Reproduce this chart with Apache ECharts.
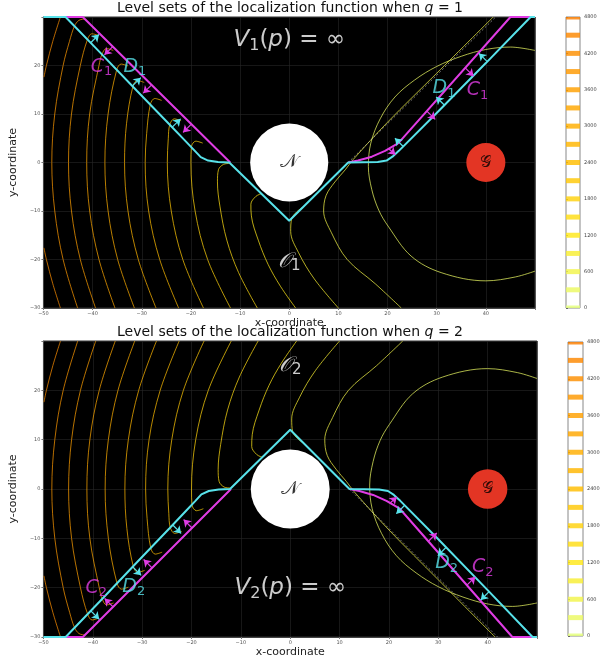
<!DOCTYPE html>
<html><head><meta charset="utf-8">
<script src="https://cdn.jsdelivr.net/npm/echarts/dist/echarts.min.js"></script>
<style>html,body{margin:0;padding:0;background:#fff}#c{width:610px;height:663px}</style>
</head><body><div id="c"></div>
<script>
// ---------- ticks ----------
const xTicks = [-50,-40,-30,-20,-10,0,10,20,30,40];
const yTicks = [-30,-20,-10,0,10,20];
const cbTicks = [0,600,1200,1800,2400,3000,3600,4200,4800];
const levels = [0,300,600,900,1200,1500,1800,2100,2400,2700,3000,3300,3600,3900,4200,4500,4800];
const levelColors = ['#e4ff7a','#ebf962','#f2f44a','#f8ee32','#ffe81a','#ffdd14','#ffd20d','#ffc806','#ffbd00','#ffb600','#ffae00','#ffa700','#ffa000','#fe9800','#fd8f00','#fd8700','#fc7f00'];

// ---------- top panel (q = 1) ----------
const top_c4200a = [[-49.9,-17.6],[-49.4,-20],[-48.1,-25],[-46.55,-30]];
const top_c4200b = [[-49.9,17.6],[-49.4,20],[-48.1,25],[-46.55,30]];
const top_c3900 = [[-43.05,-30],[-46.0,-20],[-47.7,-10],[-48.3,0],[-47.7,10],[-46.0,20],[-44.7,25],[-43.7,28.1],[-42.8,29.3],[-41.6,29.6]];
const top_c3600 = [[-39.4,-30],[-42.5,-20],[-44.3,-10],[-44.9,0],[-44.3,10],[-42.5,20],[-41.05,25.35],[-40.15,26.55],[-38.75,26.15]];
const top_c3300 = [[-35.45,-30],[-38.7,-20],[-40.6,-10],[-41.2,0],[-40.6,10],[-38.7,20],[-38.1,22.3],[-37.2,23.5],[-35.8,23.1]];
const top_c3000 = [[-31.5,-30],[-34.9,-20],[-36.85,-10],[-37.5,0],[-36.85,10],[-35.1,19.1],[-34.2,20.3],[-32.8,19.9]];
const top_c2700 = [[-27.1,-30],[-30.7,-20],[-32.8,-10],[-33.5,0],[-33.1,8],[-31.8,15.7],[-30.9,16.9],[-29.5,16.5]];
const top_c2400 = [[-22.5,-30],[-26.35,-20],[-28.6,-10],[-29.3,0],[-29.0,6],[-28.25,12],[-27.35,13.2],[-25.95,12.8]];
const top_c2100 = [[-17.45,-30],[-21.65,-20],[-24.0,-10],[-24.8,0],[-24.6,5],[-24.3,7.8],[-23.4,9.0],[-22.0,8.6]];
const top_c1800 = [[-11.95,-30],[-16.6,-20],[-19.15,-10],[-20.0,0],[-19.9,3.25],[-19.0,4.4],[-17.6,4.0]];
const top_c1500 = [[-6.5,-30],[-10.3,-22.7],[-12.7,-16],[-14.1,-9],[-14.6,-4],[-14.4,-1.5],[-13.4,-0.4],[-12.2,-0.2]];
const top_c1200 = [[1.3,-30],[-1.8,-25.5],[-4.3,-21],[-6.3,-16],[-7.7,-11],[-7.8,-8.6],[-6.8,-7],[-5.6,-6.4]];
const top_c900 = [[10,-30],[5.1,-24],[1.9,-18.6],[0.3,-14.2],[0.5,-11.6],[1.5,-10.2],[2.8,-9.2]];
const top_c600 = [[22.8,-30],[17.5,-25],[11.8,-20],[8.6,-14.5],[7,-10],[7.5,-6.8],[9.3,-4],[11.4,-1.5],[13,0.6],[20,8.3],[30,18.4],[41.5,30]];
const top_c300 = [[50,23.1],[45,23.8],[40,23.3],[35,21.9],[30,19.8],[25.5,17],[21.5,13.5],[18.5,9],[16.6,4],[16.1,-0.8],[16.8,-5.6],[18.2,-9.8],[20.1,-13.1],[24.8,-19.3],[30.9,-22.7],[40,-24.4],[46,-23.6],[50,-22.4]];
const top_cyan = [[-50,30],[-45.5,30],[-38.5,22.7],[-31,14.8],[-24.5,8.0],[-21,4.3],[-19.3,2.5],[-18,1.1],[-16.5,0.4],[-14.5,0.1],[-12.2,0],[0,-12],[12,0],[18,0.1],[19.8,0.4],[21,1.2],[22.3,2.4],[30,10.2],[40,20.5],[49.1,30],[50,30]];
const top_magentaL = [[-45.5,30],[-42,30],[-12,0]];
const top_magentaR = [[12,0],[14,0.4],[16.8,1.2],[19.5,2.4],[22.2,4],[45,30],[50,30]];
const top_dottedL = [[-12,0],[-42,30]];
const top_dottedR = [[12,0],[42,30]];
const top_arrowsCyan = [[-40.4,24.7,-38.7,26.4],[-31.9,15.8,-30.2,17.5],[-23.8,7.3,-22.1,9.0],[40.3,20.8,38.6,22.5],[31.6,11.8,29.9,13.5],[23.2,3.3,21.5,5.0]];
const top_arrowsMagenta = [[-35.9,23.9,-37.6,22.2],[-28.0,16.0,-29.7,14.3],[-19.9,7.9,-21.6,6.2],[35.8,19.5,37.5,17.8],[28.0,10.6,29.7,8.9],[20.2,2.9,21.6,1.6]];

// ---------- bottom panel (q = 2) ----------
const bot_c4200a = [[-49.9,17.6],[-49.4,20],[-48.1,25],[-46.55,30]];
const bot_c4200b = [[-49.9,-17.6],[-49.4,-20],[-48.1,-25],[-46.55,-30]];
const bot_c3900 = [[-43.05,30],[-46.0,20],[-47.7,10],[-48.3,0],[-47.7,-10],[-46.0,-20],[-44.7,-25],[-43.7,-28.1],[-42.8,-29.3],[-41.6,-29.6]];
const bot_c3600 = [[-39.4,30],[-42.5,20],[-44.3,10],[-44.9,0],[-44.3,-10],[-42.5,-20],[-41.05,-25.35],[-40.15,-26.55],[-38.75,-26.15]];
const bot_c3300 = [[-35.45,30],[-38.7,20],[-40.6,10],[-41.2,0],[-40.6,-10],[-38.7,-20],[-38.1,-22.3],[-37.2,-23.5],[-35.8,-23.1]];
const bot_c3000 = [[-31.5,30],[-34.9,20],[-36.85,10],[-37.5,0],[-36.85,-10],[-35.1,-19.1],[-34.2,-20.3],[-32.8,-19.9]];
const bot_c2700 = [[-27.1,30],[-30.7,20],[-32.8,10],[-33.5,0],[-33.1,-8],[-31.8,-15.7],[-30.9,-16.9],[-29.5,-16.5]];
const bot_c2400 = [[-22.5,30],[-26.35,20],[-28.6,10],[-29.3,0],[-29.0,-6],[-28.25,-12],[-27.35,-13.2],[-25.95,-12.8]];
const bot_c2100 = [[-17.45,30],[-21.65,20],[-24.0,10],[-24.8,0],[-24.6,-5],[-24.3,-7.8],[-23.4,-9.0],[-22.0,-8.6]];
const bot_c1800 = [[-11.95,30],[-16.6,20],[-19.15,10],[-20.0,0],[-19.9,-3.25],[-19.0,-4.4],[-17.6,-4.0]];
const bot_c1500 = [[-6.5,30],[-10.3,22.7],[-12.7,16],[-14.1,9],[-14.6,4],[-14.4,1.5],[-13.4,0.4],[-12.2,0.2]];
const bot_c1200 = [[1.3,30],[-1.8,25.5],[-4.3,21],[-6.3,16],[-7.7,11],[-7.8,8.6],[-6.8,7],[-5.6,6.4]];
const bot_c900 = [[10,30],[5.1,24],[1.9,18.6],[0.3,14.2],[0.5,11.6],[1.5,10.2],[2.8,9.2]];
const bot_c600 = [[22.8,30],[17.5,25],[11.8,20],[8.6,14.5],[7,10],[7.5,6.8],[9.3,4],[11.4,1.5],[13,-0.6],[20,-8.3],[30,-18.4],[41.5,-30]];
const bot_c300 = [[50,-23.1],[45,-23.8],[40,-23.3],[35,-21.9],[30,-19.8],[25.5,-17],[21.5,-13.5],[18.5,-9],[16.6,-4],[16.1,0.8],[16.8,5.6],[18.2,9.8],[20.1,13.1],[24.8,19.3],[30.9,22.7],[40,24.4],[46,23.6],[50,22.4]];
const bot_cyan = [[-50,-30],[-45.5,-30],[-38.5,-22.7],[-31,-14.8],[-24.5,-8.0],[-21,-4.3],[-19.3,-2.5],[-18,-1.1],[-16.5,-0.4],[-14.5,-0.1],[-12.2,0],[0,12],[12,0],[18,-0.1],[19.8,-0.4],[21,-1.2],[22.3,-2.4],[30,-10.2],[40,-20.5],[49.1,-30],[50,-30]];
const bot_magentaL = [[-45.5,-30],[-42,-30],[-12,0]];
const bot_magentaR = [[12,0],[14,-0.4],[16.8,-1.2],[19.5,-2.4],[22.2,-4],[45,-30],[50,-30]];
const bot_dottedL = [[-12,0],[-42,-30]];
const bot_dottedR = [[12,0],[42,-30]];
const bot_arrowsCyan = [[-40.4,-24.7,-38.7,-26.4],[-31.9,-15.8,-30.2,-17.5],[-23.8,-7.3,-22.1,-9.0],[40.3,-20.8,38.6,-22.5],[31.6,-11.8,29.9,-13.5],[23.2,-3.3,21.5,-5.0]];
const bot_arrowsMagenta = [[-35.9,-23.9,-37.6,-22.2],[-28.0,-16.0,-29.7,-14.3],[-19.9,-7.9,-21.6,-6.2],[35.8,-19.5,37.5,-17.8],[28.0,-10.6,29.7,-8.9],[20.2,-2.9,21.6,-1.6]];

// obstacle N and goal G: [x, y, radius]
const nCircle = [0,0,8];
const gCircle = [40,0,4];

const CYAN = '#58e2ea', MAG = '#e03ce4';

const topContours = [[4200,top_c4200a],[4200,top_c4200b],[3900,top_c3900],[3600,top_c3600],[3300,top_c3300],[3000,top_c3000],[2700,top_c2700],[2400,top_c2400],[2100,top_c2100],[1800,top_c1800],[1500,top_c1500],[1200,top_c1200],[900,top_c900],[600,top_c600],[300,top_c300]];
const botContours = [[4200,bot_c4200a],[4200,bot_c4200b],[3900,bot_c3900],[3600,bot_c3600],[3300,bot_c3300],[3000,bot_c3000],[2700,bot_c2700],[2400,bot_c2400],[2100,bot_c2100],[1800,bot_c1800],[1500,bot_c1500],[1200,bot_c1200],[900,bot_c900],[600,bot_c600],[300,bot_c300]];

const topAnn = [
  {t:'{v|V}{s|1}{n|(}{v|p}{n|) = ∞}', x:0, y:25.2, color:'#ffffff', size:23},
  {t:'{v|C}{s|1}', x:-38.2, y:19.7, color:MAG, size:19},
  {t:'{v|D}{s|1}', x:-31.4, y:19.7, color:CYAN, size:19},
  {t:'{v|D}{s|1}', x:31.5, y:15.3, color:CYAN, size:19},
  {t:'{v|C}{s|1}', x:38.3, y:14.9, color:MAG, size:19},
  {t:'{v|𝒪}{s|1}', x:0, y:-20.4, color:'#ffffff', size:21},
  {t:'{n|𝒩}', x:0, y:0, color:'#000000', size:19},
  {t:'{n|𝒢}', x:40, y:0, color:'#000000', size:16}
];
const botAnn = [
  {t:'{v|V}{s|2}{n|(}{v|p}{n|) = ∞}', x:0, y:-20, color:'#ffffff', size:23},
  {t:'{v|C}{s|2}', x:-39.3, y:-20, color:MAG, size:19},
  {t:'{v|D}{s|2}', x:-31.7, y:-19.8, color:CYAN, size:19},
  {t:'{v|D}{s|2}', x:31.7, y:-15.1, color:CYAN, size:19},
  {t:'{v|C}{s|2}', x:39.0, y:-15.9, color:MAG, size:19},
  {t:'{v|𝒪}{s|2}', x:0, y:25.1, color:'#ffffff', size:21},
  {t:'{n|𝒩}', x:0, y:0, color:'#000000', size:19},
  {t:'{n|𝒢}', x:40, y:0, color:'#000000', size:16}
];

function levelColor(l){ return levelColors[levels.indexOf(l)]; }
function fmt(v){ return v < 0 ? '\u2212' + Math.abs(v) : String(v); }
function mkRich(color, size){
  return {
    v:{fontFamily:'DejaVu Sans', fontStyle:'italic', fontSize:size, color:color, lineHeight:Math.round(size*1.2)},
    n:{fontFamily:'DejaVu Sans', fontSize:size, color:color, lineHeight:Math.round(size*1.2)},
    s:{fontFamily:'DejaVu Sans', fontSize:Math.round(size*0.7), color:color, verticalAlign:'bottom', lineHeight:Math.round(size*0.7)}
  };
}

function panelSeries(g, contours, cyan, magL, magR, dotL, dotR, arrC, arrM, anns){
  const s = [];
  contours.forEach(([lv, pts]) => s.push({type:'line', xAxisIndex:g, yAxisIndex:g, data:pts, symbol:'none', smooth:0.35,
     lineStyle:{color:levelColor(lv), width:1, opacity:0.72}, silent:true, z:2, animation:false}));
  [dotL, dotR].forEach(d => s.push({type:'line', xAxisIndex:g, yAxisIndex:g, data:d, symbol:'none',
     lineStyle:{color:'#bbbbbb', width:0.8, type:[2,2], opacity:0.8}, silent:true, z:3, animation:false}));
  [magL, magR].forEach(d => s.push({type:'line', xAxisIndex:g, yAxisIndex:g, data:d, symbol:'none',
     lineStyle:{color:MAG, width:2}, silent:true, z:4, animation:false}));
  s.push({type:'line', xAxisIndex:g, yAxisIndex:g, data:cyan, symbol:'none',
     lineStyle:{color:CYAN, width:2}, silent:true, z:5, animation:false});
  s.push({type:'custom', xAxisIndex:g, yAxisIndex:g, data:[nCircle, gCircle], z:8, silent:true, animation:false,
     renderItem:(p, api) => {
       const c = api.coord([api.value(0), api.value(1)]);
       const sz = api.size([api.value(2), api.value(2)]);
       return {type:'circle', shape:{cx:c[0], cy:c[1], r:(sz[0]+sz[1])/2}, style:{fill: p.dataIndex === 0 ? '#ffffff' : '#e33524'}};
     }});
  [[arrC, CYAN],[arrM, MAG]].forEach(([arr, col]) => s.push({type:'lines', coordinateSystem:'cartesian2d', xAxisIndex:g, yAxisIndex:g,
     data: arr.map(a => ({coords:[[a[0],a[1]],[a[2],a[3]]]})), symbol:['none','arrow'], symbolSize:7,
     lineStyle:{color:col, width:1.2, opacity:1}, silent:true, z:9, animation:false}));
  anns.forEach(a => s.push({type:'scatter', xAxisIndex:g, yAxisIndex:g, data:[[a.x, a.y]], symbolSize:0, z:20, silent:true, animation:false,
     label:{show:true, position:'inside', formatter:a.t, rich:mkRich(a.color, a.size)}}));
  return s;
}

function cbSeries(g){
  return {type:'custom', xAxisIndex:g, yAxisIndex:g, data: levels.map((l,i) => [0.5, l, i]), encode:{x:0, y:1}, clip:true, silent:true, animation:false,
    renderItem:(p, api) => {
      const lv = api.value(1), i = api.value(2);
      const a = api.coord([0, lv]), b = api.coord([1, lv]);
      return {type:'rect', shape:{x:a[0], y:a[1]-2.5, width:b[0]-a[0], height:5}, style:{fill:levelColors[i], opacity:0.82}};
    }};
}

function mainX(g){
  return {gridIndex:g, type:'value', min:-50, max:50, interval:10, name:'x-coordinate', nameLocation:'middle', nameGap:10,
    nameTextStyle:{fontSize:11, color:'#222', fontFamily:'DejaVu Sans'},
    axisLine:{show:true, onZero:false, lineStyle:{color:'#444'}}, axisTick:{show:true, length:2, lineStyle:{color:'#777'}},
    axisLabel:{fontSize:5, color:'#555', margin:3, fontFamily:'DejaVu Sans', formatter:v => xTicks.includes(v) ? fmt(v) : ''},
    splitLine:{show:true, lineStyle:{color:'#262626', width:0.6}}};
}
function mainY(g){
  return {gridIndex:g, type:'value', min:-30, max:30, interval:10, name:'y-coordinate', nameLocation:'middle', nameGap:2, nameRotate:90,
    nameTextStyle:{fontSize:11, color:'#222', fontFamily:'DejaVu Sans'},
    axisLine:{show:true, onZero:false, lineStyle:{color:'#444'}}, axisTick:{show:true, length:2, lineStyle:{color:'#777'}},
    axisLabel:{fontSize:5, color:'#555', margin:3, fontFamily:'DejaVu Sans', formatter:v => yTicks.includes(v) ? fmt(v) : ''},
    splitLine:{show:true, lineStyle:{color:'#262626', width:0.6}}};
}
function cbX(g){ return {gridIndex:g, type:'value', min:0, max:1, show:false}; }
function cbY(g){
  return {gridIndex:g, type:'value', min:0, max:4800, interval:600, position:'right',
    axisLine:{show:false}, axisTick:{show:true, length:2, lineStyle:{color:'#666'}},
    axisLabel:{fontSize:5, color:'#444', margin:4, fontFamily:'DejaVu Sans', formatter:v => cbTicks.includes(v) ? String(v) : ''},
    splitLine:{show:false}};
}

const titleRich = {a:{fontSize:14, fontFamily:'DejaVu Sans', fill:'#111', color:'#111'}, i:{fontSize:14, fontFamily:'DejaVu Sans', fontStyle:'italic', fill:'#111', color:'#111'}};

const option = {
  animation:false,
  backgroundColor:'#ffffff',
  grid:[
    {left:40, top:17, width:495, height:291, show:true, backgroundColor:'#000', borderColor:'#333', borderWidth:1},
    {left:36, top:341, width:501, height:296, show:true, backgroundColor:'#000', borderColor:'#333', borderWidth:1},
    {left:566, top:17, width:14, height:291, show:true, backgroundColor:'#fff', borderColor:'#888', borderWidth:1},
    {left:568, top:342, width:15, height:294, show:true, backgroundColor:'#fff', borderColor:'#888', borderWidth:1}
  ],
  xAxis:[mainX(0), mainX(1), cbX(2), cbX(3)],
  yAxis:[mainY(0), mainY(1), cbY(2), cbY(3)],
  graphic:[
    {type:'text', x:290, y:8, style:{text:'{a|Level sets of the localization function when }{i|q}{a| = 1}', rich:titleRich, align:'center', verticalAlign:'middle'}},
    {type:'text', x:290, y:332, style:{text:'{a|Level sets of the localization function when }{i|q}{a| = 2}', rich:titleRich, align:'center', verticalAlign:'middle'}}
  ],
  series:[].concat(
    panelSeries(0, topContours, top_cyan, top_magentaL, top_magentaR, top_dottedL, top_dottedR, top_arrowsCyan, top_arrowsMagenta, topAnn),
    panelSeries(1, botContours, bot_cyan, bot_magentaL, bot_magentaR, bot_dottedL, bot_dottedR, bot_arrowsCyan, bot_arrowsMagenta, botAnn),
    [cbSeries(2), cbSeries(3)]
  )
};
const chart = echarts.init(document.getElementById('c'), null, {renderer:'canvas'});
chart.setOption(option);
</script></body></html>
